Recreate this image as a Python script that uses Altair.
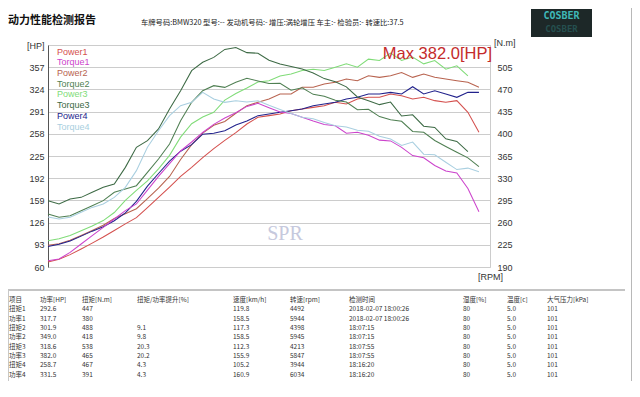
import altair as alt
import pandas as pd

# ---------------- data ----------------
rpm = [2400, 2510, 2620, 2730, 2840, 2950, 3060, 3170, 3280, 3390, 3500, 3610, 3720, 3830,
       3940, 4050, 4160, 4270, 4380, 4490, 4600, 4710, 4820, 4930, 5040, 5150, 5260, 5370,
       5480, 5590, 5700, 5810, 5920, 6030, 6140, 6250, 6360, 6470, 6580, 6690]

power1 = [67.4, 71.4, 78.4, 86.8, 95.5, 104.6, 114.2, 124.1, 133.3, 148.2, 163.6, 178.9, 194.8, 208.2,
          222.5, 235.9, 248.3, 259.7, 272.6, 282.5, 285.0, 287.4, 292.4, 294.9, 297.3, 299.8, 304.8, 302.3,
          309.7, 312.2, 312.2, 317.2, 314.7, 309.7, 312.2, 307.3, 304.8, 307.3, 289.9, 260.2]
torque1 = [200.0, 202.6, 213.0, 226.3, 239.4, 252.5, 265.7, 278.8, 289.4, 311.3, 332.9, 352.9, 372.9, 387.1,
           402.1, 414.8, 425.0, 433.1, 443.2, 448.0, 441.2, 434.5, 432.0, 426.0, 420.0, 414.5, 412.6, 400.9,
           402.5, 397.7, 390.0, 388.8, 378.6, 365.7, 362.1, 350.1, 341.3, 338.2, 313.7, 277.0]
power2 = [92.2, 94.6, 99.7, 106.9, 114.3, 122.0, 132.2, 139.3, 146.6, 161.5, 177.1, 194.6, 219.8, 241.8,
          258.9, 270.7, 276.4, 288.5, 299.8, 304.8, 309.7, 317.2, 317.2, 327.1, 327.1, 332.0, 334.5, 339.5,
          337.0, 344.4, 341.9, 344.4, 349.0, 341.9, 346.9, 341.9, 339.5, 337.0, 334.5, 327.1]
torque2 = [273.6, 268.3, 270.9, 278.8, 286.7, 294.6, 307.7, 313.0, 318.2, 339.2, 360.3, 383.9, 420.7, 449.6,
           468.0, 475.9, 473.2, 481.1, 487.4, 483.4, 479.4, 479.6, 468.6, 472.5, 462.2, 459.1, 452.8, 450.2,
           437.9, 438.7, 427.1, 422.1, 419.8, 403.7, 402.3, 389.5, 380.1, 370.9, 362.0, 348.2]
power3 = [99, 102, 107, 114, 121, 129, 141, 159, 174, 188, 206, 226, 253, 273,
          283, 290, 308, 318, 326, 335, 337, 344, 347, 352, 354, 352, 357, 362,
          357, 369, 367, 378, 367, 372, 362, 367, 354, 359, 344]
torque3 = [294.6, 289.3, 297.2, 299.8, 307.7, 315.6, 320.8, 347.1, 378.7, 389.2, 407.6, 439.1, 468.0, 499.5,
           512.7, 520.5, 533.0, 536.0, 528.0, 527.0, 516.0, 510.0, 506.0, 502.0, 496.0, 487.0, 482.0, 474.0,
           458.0, 452.0, 446.0, 450.0, 428.0, 430.0, 412.0, 410.0, 392.0, 388.0, 372.0]
power4 = [90.6, 93.7, 98.7, 105.9, 113.3, 119.9, 128.8, 140.5, 157.5, 180.3, 199.0, 217.3, 232.1, 241.8,
          257.5, 258.7, 262.7, 271.1, 277.0, 285.0, 287.4, 289.9, 292.4, 294.9, 299.8, 302.3, 304.8, 309.7,
          312.2, 317.2, 317.2, 319.6, 317.2, 328.0, 317.2, 322.1, 317.2, 312.2, 319.6, 319.6]
torque4 = [268.8, 265.7, 268.3, 276.2, 284.0, 289.3, 299.8, 315.6, 341.9, 378.7, 404.9, 428.6, 444.3, 449.6,
           465.4, 454.9, 449.6, 452.2, 450.0, 452.0, 444.9, 438.3, 432.0, 426.0, 423.6, 418.0, 412.6, 410.7,
           405.7, 404.1, 396.3, 391.7, 381.6, 387.0, 367.9, 367.0, 355.2, 343.6, 345.9, 340.2]

series_names = ["Power1", "Torque1", "Power2", "Torque2", "Power3", "Torque3", "Power4", "Torque4"]
series_colors = ["#d4504e", "#cc44cc", "#b8634f", "#4f7f52", "#80dc78", "#3d6a45", "#22228c", "#a9cfe0"]

x_ticks = [2400, 2620, 2840, 3060, 3280, 3500, 3720, 3940, 4160, 4380, 4600, 4820, 5040, 5260,
           5480, 5700, 5920, 6140, 6360, 6580]
hp_ticks = [60, 93, 126, 159, 192, 225, 258, 291, 324, 357, 390]
nm_ticks = [190, 225, 260, 295, 330, 365, 400, 435, 470, 505, 540]

title_text = "动力性能检测报告"
info_text = "车牌号码:BMW320  型号:--  发动机号码:-  增压:涡轮增压  车主:-  检验员:-  转速比:37.5"
max_text = "Max 382.0[HP]"
x_unit = "[RPM]"
y2_unit = "[N.m]"

tbl_header = ["项目", "功率[HP]", "扭矩[N.m]", "扭矩/功率提升[%]", "速度[km/h]", "转速[rpm]",
              "检测时间", "湿度[%]", "温度[c]", "大气压力[kPa]"]
tbl_item = ["扭矩1", "功率1", "扭矩2", "功率2", "扭矩3", "功率3", "扭矩4", "功率4"]
tbl_power = ["292.6", "317.7", "301.9", "349.0", "318.6", "382.0", "258.7", "331.5"]
tbl_torque = ["447", "380", "488", "418", "538", "465", "467", "391"]
tbl_gain = ["", "", "9.1", "9.8", "20.3", "20.2", "4.3", "4.3"]
tbl_speed = ["119.8", "158.5", "117.3", "158.5", "112.3", "155.9", "105.2", "160.9"]
tbl_rpm = ["4492", "5944", "4398", "5945", "4213", "5847", "3944", "6034"]
tbl_time = ["2018-02-07 18:00:26", "2018-02-07 18:00:26", "18:07:15", "18:07:15",
            "18:07:55", "18:07:55", "18:16:20", "18:16:20"]
tbl_hum = ["80"] * 8
tbl_temp = ["5.0"] * 8
tbl_press = ["101"] * 8

# ---------------- tables for the library ----------------
def long_frame(names, lists, field):
    frames = []
    for n, vals in zip(names, lists):
        frames.append(pd.DataFrame({"rpm": rpm[:len(vals)], field: vals, "series": n}))
    return pd.concat(frames, ignore_index=True)

power_df = long_frame(["Power1", "Power2", "Power3", "Power4"], [power1, power2, power3, power4], "hp")
torque_df = long_frame(["Torque1", "Torque2", "Torque3", "Torque4"], [torque1, torque2, torque3, torque4], "nm")

cols = [tbl_item, tbl_power, tbl_torque, tbl_gain, tbl_speed, tbl_rpm, tbl_time, tbl_hum, tbl_temp, tbl_press]
tbl = {"r": list(range(9))}
for i, (h, c) in enumerate(zip(tbl_header, cols)):
    tbl[f"c{i}"] = [h] + c
table_df = pd.DataFrame(tbl)

one = pd.DataFrame({"a": [0]})

# ---------------- styling ----------------
W, H = 442, 222
FONT = "Liberation Sans"
CJK = "Noto Sans CJK SC"
GRID = "#cccccc"

color_scale = alt.Scale(domain=series_names, range=series_colors)
x_scale = alt.Scale(domain=[2400, 6800], nice=False, zero=False)

x_axis = alt.Axis(values=x_ticks, title=None, grid=True, gridColor=GRID, ticks=False,
                  domainColor="#555555", labelFont=FONT, labelFontSize=9, labelPadding=4,
                  labelOverlap=False, labelFlush=False,
                  labelColor={"condition": {"test": "(datum.value - 2400) % 880 == 0", "value": "#c8504a"},
                              "value": "#333333"})
hp_axis = alt.Axis(values=hp_ticks, title=None, grid=True, gridColor=GRID, ticks=False,
                   domainColor="#555555", labelFont=FONT, labelFontSize=9, labelColor="#333333",
                   labelPadding=4, labelOverlap=False, labelFlush=False,
                   labelExpr="datum.value == 390 ? '[HP]' : datum.label")
nm_axis = alt.Axis(values=nm_ticks, orient="right", title=None, grid=False, ticks=False, domain=False,
                   labelFont=FONT, labelFontSize=9, labelColor="#333333", labelPadding=7,
                   labelOverlap=False, labelFlush=False,
                   labelExpr="datum.value == 540 ? '' : datum.label")

power_lines = alt.Chart(power_df).mark_line(strokeWidth=1.05).encode(
    x=alt.X("rpm:Q", scale=x_scale, axis=x_axis),
    y=alt.Y("hp:Q", scale=alt.Scale(domain=[60, 390], nice=False, zero=False), axis=hp_axis),
    color=alt.Color("series:N", scale=color_scale, legend=None),
)
torque_lines = alt.Chart(torque_df).mark_line(strokeWidth=1.05).encode(
    x=alt.X("rpm:Q", scale=x_scale, axis=None),
    y=alt.Y("nm:Q", scale=alt.Scale(domain=[190, 540], nice=False, zero=False), axis=nm_axis),
    color=alt.Color("series:N", scale=color_scale, legend=None),
)

legend = alt.Chart(pd.DataFrame({"series": series_names})).mark_text(
    align="left", baseline="middle", font=FONT, fontSize=9).encode(
    x=alt.value(9),
    y=alt.Y("series:N", scale=alt.Scale(type="point", domain=series_names, range=[6.5, 81.5], padding=0),
            axis=None),
    text="series:N",
    color=alt.Color("series:N", scale=color_scale, legend=None),
)

def label(text, x, y, **kw):
    return alt.Chart(one).mark_text(text=text, **kw).encode(x=alt.value(x), y=alt.value(y))

title = label(title_text, -40, -24, font=CJK, fontSize=11, fontWeight="bold", align="left",
              baseline="middle", color="#111111")
info = label(info_text, 93, -22, font=CJK, fontSize=7.3, align="left", baseline="middle", color="#222222")
max_lbl = label(max_text, 444, 9, font=FONT, fontSize=16.5, align="right", baseline="middle", color="#c42b2b")
spr = label("SPR", 237, 189, font="Liberation Serif", fontSize=20, align="center", baseline="middle",
            color="#c6c9dd")
nm_unit = label(y2_unit, 446, -2, font=FONT, fontSize=9, align="left", baseline="middle", color="#333333")
rpm_unit = label(x_unit, 430, 232, font=FONT, fontSize=9, align="left", baseline="middle", color="#333333")

logo_box = alt.Chart(one).mark_rect(color="#1d2828").encode(
    x=alt.value(483), x2=alt.value(544), y=alt.value(-36), y2=alt.value(-8))
logo_txt = label("COSBER", 513.5, -29, font="DejaVu Sans Mono", fontSize=10, fontWeight="bold",
                 align="center", baseline="middle", color="#3fb8b8")
logo_ref = label("COSBER", 513.5, -16, font="DejaVu Sans Mono", fontSize=9, fontWeight="bold",
                 align="center", baseline="middle", color="#2b6a6a", opacity=0.6)

sep = alt.Chart(one).mark_rule(color="#c4c4c4", strokeWidth=2).encode(
    x=alt.value(-40), x2=alt.value(577), y=alt.value(245))
tbl_left = alt.Chart(one).mark_rule(color="#c8c8c8").encode(
    x=alt.value(-39.5), y=alt.value(245), y2=alt.value(336))
right_edge = alt.Chart(one).mark_rule(color="#b8b8b8").encode(
    x=alt.value(583.5), y=alt.value(-45), y2=alt.value(336))

col_x = [-39, -8, 34, 89, 185, 242, 301, 415, 459, 499]
row_scale = alt.Scale(type="point", domain=list(range(9)), range=[255, 329.5], padding=0)
table_layers = []
for i, cx in enumerate(col_x):
    table_layers.append(
        alt.Chart(table_df).mark_text(align="left", baseline="middle", font=CJK, fontSize=6.5,
                                      color="#333333").encode(
            x=alt.value(cx),
            y=alt.Y("r:O", scale=row_scale, axis=None),
            text=f"c{i}:N",
        )
    )

chart = alt.layer(
    power_lines, torque_lines, legend, spr, max_lbl, nm_unit, rpm_unit, title, info,
    logo_box, logo_txt, logo_ref, sep, tbl_left, right_edge, *table_layers
).resolve_scale(y="independent").properties(
    width=W, height=H,
    padding={"left": 40, "top": 37, "right": 142, "bottom": 122},
    autosize=alt.AutoSizeParams(type="none"),
    background="white",
).configure_view(stroke=GRID, strokeWidth=1)

chart.save("out.html", embed_options={"renderer": "svg", "actions": False})
